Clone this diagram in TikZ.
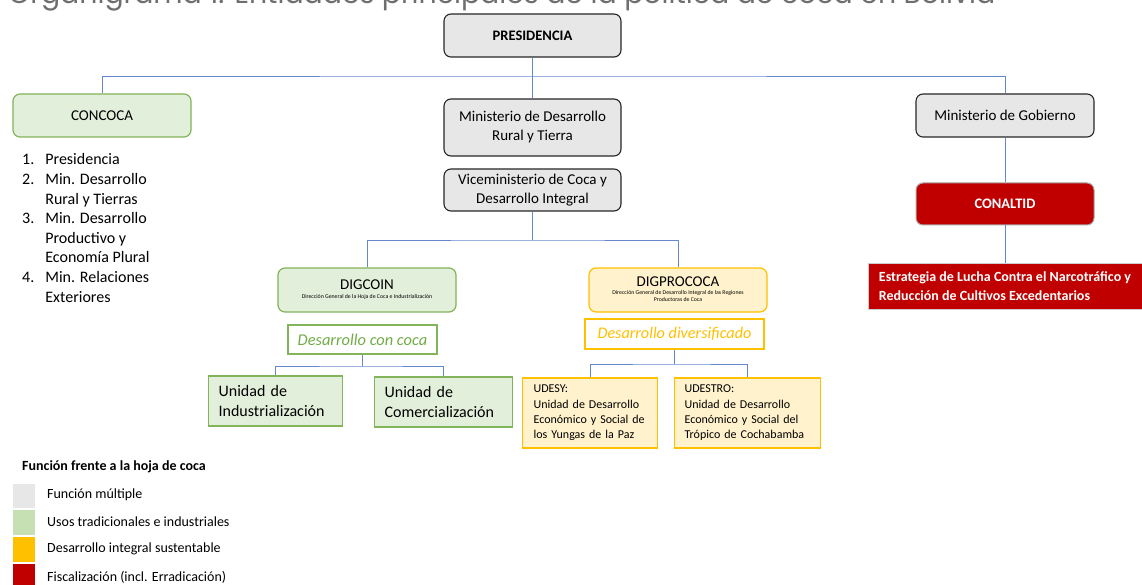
\documentclass[tikz,border=0pt]{standalone}
\usepackage{fontspec}
\setmainfont{Carlito}
\newfontfamily\titlefont{Poppins}
\definecolor{grayfill}{RGB}{231,231,231}
\definecolor{grayline}{RGB}{38,38,38}
\definecolor{greenfill}{RGB}{226,239,218}
\definecolor{greenline}{RGB}{130,180,90}
\definecolor{greentext}{RGB}{112,173,71}
\definecolor{goldfill}{RGB}{255,242,204}
\definecolor{goldline}{RGB}{255,192,0}
\definecolor{redfill}{RGB}{192,0,0}
\definecolor{conncol}{RGB}{100,135,205}
\definecolor{legendgreen}{RGB}{198,224,180}
\definecolor{titlegray}{RGB}{110,110,110}
\tikzset{
  box/.style={inner sep=0pt, align=center, font=\fontsize{15}{19}\selectfont},
  graybox/.style={box, draw=grayline, line width=1.1pt, fill=grayfill, rounded corners=7pt},
  greenbox/.style={box, draw=greenline, line width=1.2pt, fill=greenfill, rounded corners=7pt},
  goldbox/.style={box, draw=goldline, line width=1.2pt, fill=goldfill, rounded corners=7pt},
  redbox/.style={box, draw=black!35, line width=1pt, fill=redfill, text=white, font=\fontsize{14.5}{19}\selectfont\bfseries, rounded corners=7pt},
  unitgreen/.style={draw=greenline, line width=1.2pt, fill=greenfill, inner ysep=0pt, inner xsep=10pt, align=left, anchor=west, font=\fontsize{16}{20}\selectfont},
  unitgold/.style={draw=goldline, line width=1.2pt, fill=goldfill, inner ysep=0pt, align=left, anchor=west, font=\fontsize{12}{15.3}\selectfont},
  conn/.style={draw=conncol, line width=0.8pt},
  legsq/.style={inner sep=0pt, minimum width=22pt, anchor=north west},
  legtxt/.style={anchor=west, inner sep=0pt, font=\fontsize{14}{16}\selectfont}
}
\newcommand{\subt}[1]{{\fontsize{5.8}{7}\selectfont\begin{tabular}{@{}c@{}}#1\end{tabular}}}
\begin{document}
\begin{tikzpicture}[x=1pt,y=-1pt]
\useasboundingbox (0,0) rectangle (1142,585);
\clip (0,0) rectangle (1142,585);
% title (cut off at the top)
\node[anchor=base west, inner sep=0pt, text=titlegray] (title) at (8,4)
  {\resizebox{987pt}{!}{\titlefont\fontsize{28}{30}\selectfont Organigrama 1: Entidades principales de la política de coca en Bolivia}};
% top level
\node[graybox, minimum width=177pt, minimum height=43pt, font=\fontsize{14.5}{17}\selectfont\bfseries] (pres) at (532.5,35.5) {PRESIDENCIA};
\node[greenbox, minimum width=178pt, minimum height=43pt] (concoca) at (102,115.5) {CONCOCA};
\node[graybox, minimum width=177pt, minimum height=57pt] (mdr) at (532.5,127.5) {Ministerio de Desarrollo\\Rural y Tierra};
\node[graybox, minimum width=177pt, minimum height=42pt] (vice) at (532.5,190) {Viceministerio de Coca y\\Desarrollo Integral};
\node[graybox, minimum width=178pt, minimum height=43pt] (mgob) at (1005,115.5) {Ministerio de Gobierno};
\node[redbox, minimum width=178pt, minimum height=42pt] (conaltid) at (1005,204) {CONALTID};
\node[redbox, rounded corners=0pt, draw=black!20, minimum width=274pt, minimum height=46pt, align=left, font=\fontsize{14}{19}\selectfont\bfseries] (estr) at (1005,286)
  {Estrategia de Lucha Contra el Narcotráfico y\\Reducción de Cultivos Excedentarios};
% second level
\node[greenbox, minimum width=178pt, minimum height=44pt] (digcoin) at (367,290)
  {DIGCOIN\\[-10pt]\subt{Dirección General de la Hoja de Coca e Industrialización}};
\node[goldbox, minimum width=178pt, minimum height=44pt] (digpro) at (678,290)
  {DIGPROCOCA\\[-7pt]\subt{Dirección General de Desarrollo Integral de las Regiones\\Productoras de Coca}};
\node[box, draw=greenline, line width=1.2pt, fill=white, minimum width=149pt, minimum height=29pt, text=greentext, font=\fontsize{16.4}{19}\selectfont\itshape] (dcc) at (362.5,339.5) {Desarrollo con coca};
\node[box, draw=goldline, line width=1.2pt, fill=white, minimum width=179pt, minimum height=30pt, text=goldline, font=\fontsize{16.2}{19}\selectfont\itshape] (dd) at (674.5,334) {Desarrollo diversificado};
% units
\node[unitgreen, text width=114pt, minimum height=50pt] (uind) at (208,401) {Unidad de\\Industrialización};
\node[unitgreen, text width=118pt, minimum height=50pt] (ucom) at (374,402) {Unidad de\\Comercialización};
\node[unitgold, inner xsep=11pt, text width=113pt, minimum height=70pt] (udesy) at (522,413) {UDESY:\\Unidad de Desarrollo\\Económico y Social de\\los Yungas de la Paz};
\node[unitgold, inner xsep=10pt, text width=126pt, minimum height=70pt] (udestro) at (674,413) {UDESTRO:\\Unidad de Desarrollo\\Económico y Social del\\Trópico de Cochabamba};
% connectors
\coordinate (bus1) at (532.5,76);
\coordinate (bus2) at (532.5,240);
\coordinate (bus3) at (362.5,366);
\coordinate (bus4) at (674.5,364);
\draw[conn] (concoca.north) |- (bus1) -| (mgob.north);
\draw[conn] (pres.south) -- (mdr.north);
\draw[conn] (vice.south) -- (bus2);
\draw[conn] (digcoin.north) |- (bus2) -| (digpro.north);
\draw[conn] (dcc.south) -- (bus3);
\draw[conn] (uind.north) |- (bus3) -| (ucom.north);
\draw[conn] (dd.south) -- (bus4);
\draw[conn] (udesy.north) |- (bus4) -| (udestro.north);
\draw[conn] (mgob.south) -- (conaltid.north);
\draw[conn] (conaltid.south) -- (estr.north);
% CONCOCA member list
\node[anchor=north west, inner sep=0pt, font=\fontsize{16}{19.6}\selectfont] (list) at (22,151)
  {\begin{tabular}{@{}r@{\hspace{11pt}}l@{}}
   1. & Presidencia\\
   2. & Min. Desarrollo\\
      & Rural y Tierras\\
   3. & Min. Desarrollo\\
      & Productivo y\\
      & Economía Plural\\
   4. & Min. Relaciones\\
      & Exteriores
   \end{tabular}};
% legend
\node[anchor=west, inner sep=0pt, font=\fontsize{14}{16}\selectfont\bfseries] (legtitle) at (22,467) {Función frente a la hoja de coca};
\node[legsq, fill=grayfill, minimum height=24pt] (sq1) at (13,484) {};
\node[legsq, fill=legendgreen, minimum height=25pt] (sq2) at (13,510) {};
\node[legsq, fill=goldline, minimum height=25pt] (sq3) at (13,537) {};
\node[legsq, fill=redfill, minimum height=25pt] (sq4) at (13,564) {};
\node[legtxt] (l1) at (47,495) {Función múltiple};
\node[legtxt] (l2) at (47,522) {Usos tradicionales e industriales};
\node[legtxt] (l3) at (47,549) {Desarrollo integral sustentable};
\node[legtxt] (l4) at (47,577) {Fiscalización (incl. Erradicación)};
\end{tikzpicture}
\end{document}
